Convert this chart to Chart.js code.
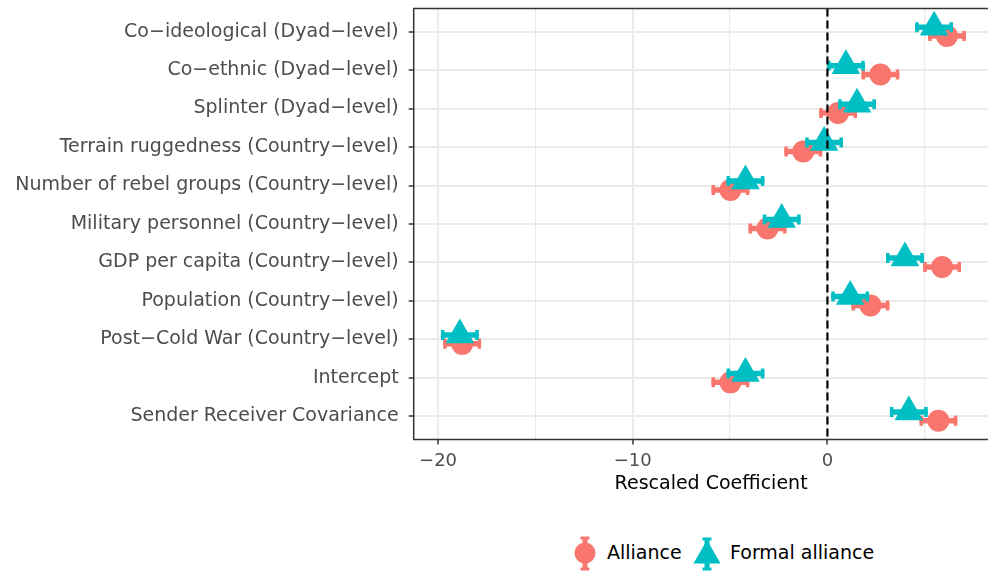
<!DOCTYPE html>
<html>
<head>
<meta charset="utf-8">
<script src="https://cdn.jsdelivr.net/npm/chart.js@4.4.0/dist/chart.umd.min.js"></script>
<style>
  html, body { margin: 0; padding: 0; overflow: hidden; background: #fff; }
  #wrap { position: relative; width: 1025px; height: 572px; }
  #box { position: absolute; left: 0; top: -8px; width: 1025px; height: 518px; }
  .leg { position: absolute; font-family: "DejaVu Sans", sans-serif; font-size: 19px; line-height: 19px; color: #000; white-space: nowrap; }
  .icon { position: absolute; }
</style>
</head>
<body>
<div id="wrap">
  <div id="box"><canvas id="coefChart"></canvas></div>
  <svg class="icon" style="left:570px;top:533px" width="30" height="40" viewBox="-15 -20 30 40">
    <line x1="0" y1="-15" x2="0" y2="16" stroke="#F8766D" stroke-width="5"/>
    <line x1="-4.5" y1="-15" x2="4.5" y2="-15" stroke="#F8766D" stroke-width="3"/>
    <line x1="-4.5" y1="16" x2="4.5" y2="16" stroke="#F8766D" stroke-width="3"/>
    <circle cx="0" cy="0" r="10.5" fill="#F8766D"/>
  </svg>
  <span class="leg" style="left:607px;top:543px">Alliance</span>
  <svg class="icon" style="left:689px;top:533px" width="36" height="40" viewBox="-18 -20 36 40">
    <line x1="0" y1="-14" x2="0" y2="16" stroke="#00BFC4" stroke-width="5"/>
    <line x1="-4.5" y1="-14" x2="4.5" y2="-14" stroke="#00BFC4" stroke-width="3"/>
    <line x1="-4.5" y1="16" x2="4.5" y2="16" stroke="#00BFC4" stroke-width="3"/>
    <polygon points="0,-13 13.6,10.5 -13.6,10.5" fill="#00BFC4"/>
  </svg>
  <span class="leg" style="left:730px;top:543px">Formal alliance</span>
</div>
<script>
"use strict";

// ---------- data ----------
const categories = [
  "Co−ideological (Dyad−level)",
  "Co−ethnic (Dyad−level)",
  "Splinter (Dyad−level)",
  "Terrain ruggedness (Country−level)",
  "Number of rebel groups (Country−level)",
  "Military personnel (Country−level)",
  "GDP per capita (Country−level)",
  "Population (Country−level)",
  "Post−Cold War (Country−level)",
  "Intercept",
  "Sender Receiver Covariance",
];

const allianceEst = [6.14, 2.72, 0.55, -1.24, -4.98, -3.08, 5.89, 2.21, -18.76, -4.98, 5.70];
const allianceLo  = [5.17, 1.75, -0.42, -2.21, -5.95, -4.05, 4.92, 1.24, -19.73, -5.95, 4.73];
const allianceHi  = [7.11, 3.69, 1.52, -0.27, -4.01, -2.11, 6.86, 3.18, -17.79, -4.01, 6.67];

const formalEst = [5.48, 0.95, 1.52, -0.17, -4.21, -2.35, 3.98, 1.17, -18.88, -4.21, 4.18];
const formalLo  = [4.51, -0.02, 0.55, -1.14, -5.18, -3.32, 3.01, 0.20, -19.85, -5.18, 3.21];
const formalHi  = [6.45, 1.92, 2.49, 0.80, -3.24, -1.38, 4.95, 2.14, -17.91, -3.24, 5.15];

const xMajorTicks = [-20, -10, 0];
const xMinorTicks = [-15, -5, 5];

const DODGE = 0.115;
const FONT = "'DejaVu Sans', sans-serif";

// ---------- plugins ----------
// horizontal error bars, drawn under each dataset's points
const errorBars = {
  id: "errorBars",
  beforeDatasetDraw(chart, args) {
    const ds = chart.data.datasets[args.index];
    if (!ds.lo) return;
    const { x, y } = chart.scales;
    const ctx = chart.ctx;
    ctx.save();
    ctx.strokeStyle = ds.backgroundColor;
    ds.data.forEach((p, i) => {
      const py = y.getPixelForValue(p.y);
      const x0 = x.getPixelForValue(ds.lo[i]);
      const x1 = x.getPixelForValue(ds.hi[i]);
      ctx.lineWidth = 5.5;
      ctx.beginPath();
      ctx.moveTo(x0, py);
      ctx.lineTo(x1, py);
      ctx.stroke();
      ctx.lineWidth = 3.5;
      ctx.beginPath();
      ctx.moveTo(x0 + 1.75, py - 5);
      ctx.lineTo(x0 + 1.75, py + 5);
      ctx.moveTo(x1 - 1.75, py - 5);
      ctx.lineTo(x1 - 1.75, py + 5);
      ctx.stroke();
    });
    ctx.restore();
  },
};

// panel border + dashed zero line
const panelDecor = {
  id: "panelDecor",
  afterDatasetsDraw(chart) {
    const { ctx, chartArea: a, scales } = chart;
    const zx = scales.x.getPixelForValue(0);
    ctx.save();
    ctx.strokeStyle = "#000";
    ctx.lineWidth = 2.2;
    ctx.setLineDash([8, 4]);
    ctx.beginPath();
    ctx.moveTo(zx, a.top);
    ctx.lineTo(zx, a.bottom);
    ctx.stroke();
    ctx.setLineDash([]);
    ctx.strokeStyle = "#333";
    ctx.lineWidth = 1.5;
    ctx.strokeRect(a.left, a.top, a.right - a.left, a.bottom - a.top);
    ctx.restore();
  },
};

// ---------- chart ----------
const ctx = document.getElementById("coefChart").getContext("2d");

new Chart(ctx, {
  type: "scatter",
  data: {
    datasets: [
      {
        label: "Alliance",
        data: allianceEst.map((v, i) => ({ x: v, y: i + DODGE })),
        lo: allianceLo,
        hi: allianceHi,
        backgroundColor: "#F8766D",
        borderWidth: 0,
        pointStyle: "circle",
        pointRadius: 11,
        order: 2,
      },
      {
        label: "Formal alliance",
        data: formalEst.map((v, i) => ({ x: v, y: i - DODGE })),
        lo: formalLo,
        hi: formalHi,
        backgroundColor: "#00BFC4",
        borderWidth: 0,
        pointStyle: "triangle",
        pointRadius: 16.5,
        order: 1,
      },
    ],
  },
  options: {
    responsive: true,
    maintainAspectRatio: false,
    animation: false,
    layout: { padding: { top: 0, right: 10, left: 0, bottom: 0 } },
    plugins: {
      legend: { display: false },
      tooltip: { enabled: false },
    },
    scales: {
      x: {
        type: "linear",
        bounds: "data",
        min: -21.25,
        max: 9.3,
        afterBuildTicks: (s) => {
          s.ticks = xMajorTicks.concat(xMinorTicks).sort((a, b) => a - b).map((v) => ({ value: v }));
        },
        afterFit: (s) => { s.height = 70.5; },
        ticks: {
          autoSkip: false,
          maxRotation: 0,
          padding: 6,
          color: "#4D4D4D",
          font: { family: FONT, size: 18 },
          callback: (v) => (xMajorTicks.includes(v) ? (v < 0 ? "−" + Math.abs(v) : String(v)) : ""),
        },
        grid: {
          color: "#EBEBEB",
          lineWidth: (c) => (c.tick && xMajorTicks.includes(c.tick.value) ? 2 : 1.2),
          tickColor: (c) => (c.tick && xMajorTicks.includes(c.tick.value) ? "#333" : "rgba(0,0,0,0)"),
          tickLength: 5,
          tickWidth: 1.5,
        },
        border: { display: false },
        title: {
          display: true,
          text: "Rescaled Coefficient",
          color: "#000",
          font: { family: FONT, size: 19 },
          padding: { top: 0, bottom: 14.5 },
        },
      },
      y: {
        type: "linear",
        bounds: "data",
        reverse: true,
        min: -0.6,
        max: 10.6,
        afterBuildTicks: (s) => {
          s.ticks = categories.map((c, i) => ({ value: i }));
        },
        afterFit: (s) => {
          s.width = 413.7;
          s.paddingTop = 0;
          s.paddingBottom = 0;
        },
        ticks: {
          autoSkip: false,
          padding: 10,
          color: "#4D4D4D",
          font: { family: FONT, size: 19 },
          callback: (v) => categories[v],
        },
        grid: {
          color: "#EBEBEB",
          lineWidth: 2,
          tickColor: "#333",
          tickLength: 5,
          tickWidth: 1.5,
        },
        border: { display: false },
      },
    },
  },
  plugins: [errorBars, panelDecor],
});
</script>
</body>
</html>
